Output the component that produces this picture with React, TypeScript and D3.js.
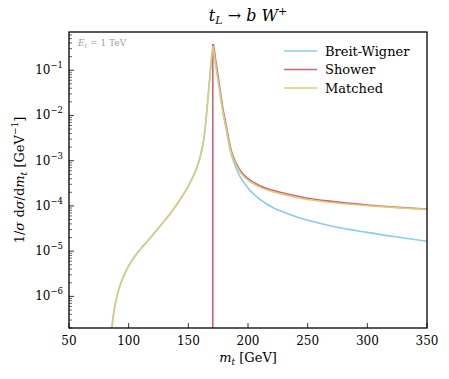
import * as d3 from 'd3';

// top-mass lineshape, t_L -> b W+, E_t = 1 TeV
const riseMass = [86, 87, 88, 90, 92.5, 95, 100, 105, 110, 115, 120, 125, 130, 135, 140, 145, 150, 153, 156, 159, 161, 163, 165, 166.5, 168, 169, 170, 170.8];
const riseValues = [2.0e-7, 3.5e-7, 5.2e-7, 9.5e-7, 1.66e-6, 2.5e-6, 4.7e-6, 7.6e-6, 1.12e-5, 1.58e-5, 2.24e-5, 3.24e-5, 4.7e-5, 6.9e-5, 1.05e-4, 1.66e-4, 2.75e-4, 3.9e-4, 5.9e-4, 1.0e-3, 1.6e-3, 3.0e-3, 8.9e-3, 0.025, 0.071, 0.14, 0.25, 0.34];

const tailMass = [171, 172, 173, 174, 175, 176, 177.5, 179, 181, 183, 185, 188, 193, 200, 210, 220, 235, 250, 270, 300, 325, 350];
const showerTail = [0.38, 0.25, 0.16, 0.11, 0.071, 0.048, 0.025, 0.014, 7.6e-3, 4e-3, 2.1e-3, 1.17e-3, 6.3e-4, 4e-4, 2.8e-4, 2.24e-4, 1.78e-4, 1.48e-4, 1.26e-4, 1.05e-4, 9.3e-5, 8.5e-5];
const matchedTail = [0.3, 0.2, 0.13, 0.088, 0.058, 0.04, 0.021, 0.012, 6.5e-3, 3.5e-3, 1.9e-3, 1.07e-3, 5.8e-4, 3.7e-4, 2.6e-4, 2.08e-4, 1.66e-4, 1.39e-4, 1.19e-4, 1.01e-4, 9.1e-5, 8.4e-5];
const bwTail = [0.3, 0.2, 0.13, 0.088, 0.058, 0.04, 0.021, 0.012, 6.3e-3, 3.3e-3, 1.75e-3, 9.5e-4, 4.6e-4, 2.5e-4, 1.4e-4, 9.5e-5, 6.5e-5, 4.8e-5, 3.6e-5, 2.6e-5, 2.05e-5, 1.65e-5];

const topMass = 170.5;
const showerPeak = 0.38;

const xTicks = [50, 100, 150, 200, 250, 300, 350];
const yExponents = [-1, -2, -3, -4, -5, -6];

const seriesNames = ['Breit-Wigner', 'Shower', 'Matched'];
const colors = ['#88ccee', '#cc6677', '#ddcc77'];

const W = 449, H = 379;
const margin = { top: 32, right: 22, bottom: 51, left: 69 };
const font = '"DejaVu Serif", serif';

export default function App() {
  const x = d3.scaleLinear().domain([50, 350]).range([margin.left, W - margin.right]);
  const y = d3.scaleLog().domain([2e-7, 0.7]).range([H - margin.bottom, margin.top]);

  const line = d3.line<[number, number]>()
    .x(d => x(d[0]))
    .y(d => y(d[1]))
    .curve(d3.curveMonotoneX);

  const zip = (a: number[], b: number[]) => a.map((v, i) => [v, b[i]] as [number, number]);
  const bwPath = line(zip(riseMass, riseValues).concat(zip(tailMass, bwTail)));
  const matchedPath = line(zip(riseMass, riseValues).concat(zip(tailMass, matchedTail)));
  const showerPath = line(zip(tailMass, showerTail));

  const x0 = margin.left, x1 = W - margin.right, y0 = H - margin.bottom, y1 = margin.top;

  const minor: number[] = [];
  for (let e = -7; e <= 0; e++) {
    for (let k = 2; k <= 9; k++) {
      const v = k * Math.pow(10, e);
      if (v >= 2e-7 && v <= 0.7) minor.push(v);
    }
  }

  return (
    <svg width={W} height={H} style={{ position: 'absolute', left: 0, top: 0, fontFamily: font }}>
      <defs>
        <clipPath id="plot">
          <rect x={x0} y={y1} width={x1 - x0} height={y0 - y1} />
        </clipPath>
      </defs>
      <rect width={W} height={H} fill="white" />

      <g clipPath="url(#plot)" fill="none" strokeWidth={1.6}>
        <path d={bwPath || ''} stroke={colors[0]} />
        <line x1={x(topMass)} x2={x(topMass)} y1={y0 + 5} y2={y(showerPeak)} stroke={colors[1]} />
        <path d={showerPath || ''} stroke={colors[1]} />
        <path d={matchedPath || ''} stroke={colors[2]} />
      </g>

      {/* x ticks */}
      {xTicks.map(t => (
        <g key={t}>
          <line x1={x(t)} x2={x(t)} y1={y0} y2={y0 - 5} stroke="black" strokeWidth={0.8} />
          <text x={x(t)} y={y0 + 17} textAnchor="middle" fontSize={12}>{t}</text>
        </g>
      ))}

      {/* y ticks */}
      {minor.map((v, i) => (
        <line key={i} x1={x0} x2={x0 + 3} y1={y(v)} y2={y(v)} stroke="black" strokeWidth={0.6} />
      ))}
      {yExponents.map(e => (
        <g key={e}>
          <line x1={x0} x2={x0 + 5} y1={y(Math.pow(10, e))} y2={y(Math.pow(10, e))} stroke="black" strokeWidth={0.8} />
          <text x={x0 - 6} y={y(Math.pow(10, e)) + 4} textAnchor="end" fontSize={12}>
            10<tspan fontSize={8.5} dy={-6}>{'\u2212' + Math.abs(e)}</tspan>
          </text>
        </g>
      ))}

      <rect x={x0} y={y1} width={x1 - x0} height={y0 - y1} fill="none" stroke="black" strokeWidth={1.3} />

      {/* title */}
      <text x={(x0 + x1) / 2} y={21} textAnchor="middle" fontSize={16}>
        <tspan fontStyle="italic">t</tspan><tspan fontStyle="italic" fontSize={11} dy={3}>L</tspan>
        <tspan dy={-3}> {'\u2192'} </tspan><tspan fontStyle="italic">b W</tspan>
        <tspan fontSize={11} dy={-6}>+</tspan>
      </text>

      {/* x label */}
      <text x={(x0 + x1) / 2} y={H - 17} textAnchor="middle" fontSize={13}>
        <tspan fontStyle="italic">m</tspan><tspan fontStyle="italic" fontSize={9} dy={3}>t</tspan>
        <tspan dy={-3}> [GeV]</tspan>
      </text>

      {/* y label */}
      <text transform={`translate(24,${(y0 + y1) / 2}) rotate(-90)`} textAnchor="middle" fontSize={13}>
        1/<tspan fontStyle="italic">σ</tspan> d<tspan fontStyle="italic">σ</tspan>/d<tspan fontStyle="italic">m</tspan>
        <tspan fontStyle="italic" fontSize={9} dy={3}>t</tspan>
        <tspan dy={-3}> [GeV</tspan><tspan fontSize={9} dy={-6}>{'\u22121'}</tspan><tspan dy={6}>]</tspan>
      </text>

      {/* annotation */}
      <text x={x0 + 9} y={y1 + 14} fontSize={9} fill="#a0a0a0">
        <tspan fontStyle="italic">E</tspan><tspan fontStyle="italic" fontSize={6.5} dy={2}>t</tspan>
        <tspan dy={-2}> = 1 TeV</tspan>
      </text>

      {/* legend */}
      {seriesNames.map((n, i) => (
        <g key={n}>
          <line x1={284} x2={317} y1={51 + i * 18.5} y2={51 + i * 18.5} stroke={colors[i]} strokeWidth={1.6} />
          <text x={325} y={55.5 + i * 18.5} fontSize={13}>{n}</text>
        </g>
      ))}
    </svg>
  );
}
